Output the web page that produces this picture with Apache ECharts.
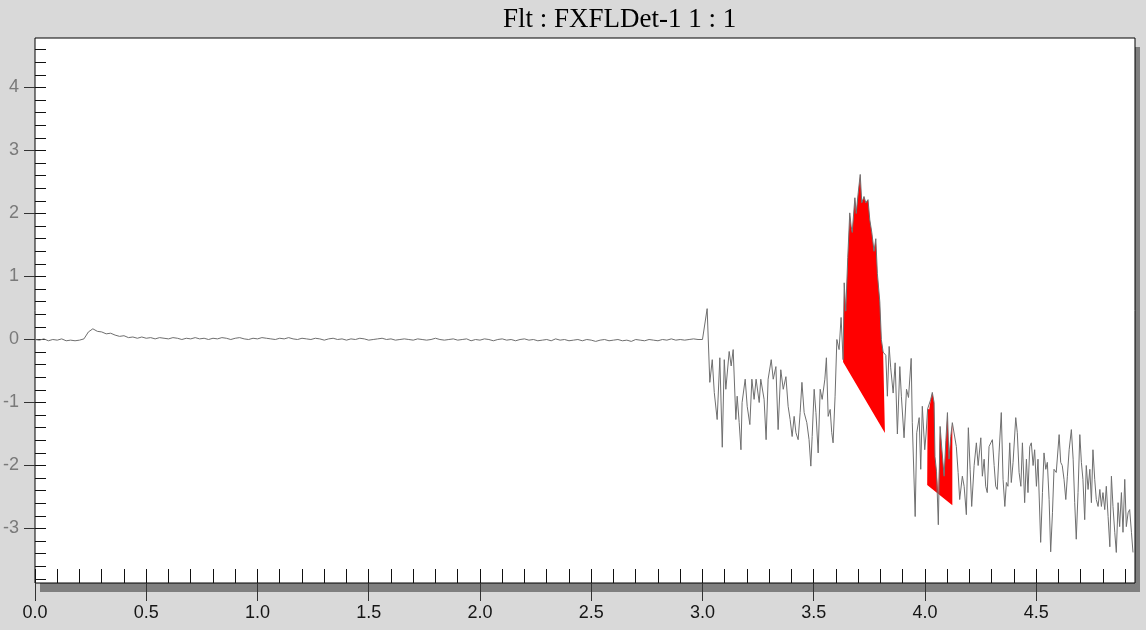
<!DOCTYPE html>
<html>
<head>
<meta charset="utf-8">
<script src="https://cdn.jsdelivr.net/npm/echarts@6/dist/echarts.min.js"></script>
<style>
  html, body { margin: 0; padding: 0; background: #d9d9d9; }
  #c { width: 1146px; height: 630px; }
</style>
</head>
<body>
<div id="c"></div>
<script>
// ---------------- DATA ----------------
const chartTitle = 'Flt : FXFLDet-1 1 : 1';

// Baseline part of the trace: sampled every 0.02 from t = 0.00 to 3.00
const flatStartTime = 0;
const flatStep = 0.02;
const flatValues = [
  0.00, -0.01, 0.01, -0.02, 0.00, -0.01, 0.01, -0.02, -0.01, -0.02,
  -0.01, 0.01, 0.12, 0.17, 0.13, 0.12, 0.09, 0.10, 0.07, 0.05,
  0.06, 0.03, 0.04, 0.02, 0.04, 0.02, 0.03, 0.01, 0.03, 0.02,
  0.01, 0.03, 0.02, 0.00, 0.02, 0.01, 0.03, 0.01, 0.02, 0.00,
  0.02, 0.01, 0.03, 0.02, 0.00, 0.02, 0.03, 0.01, 0.00, 0.02,
  0.01, 0.03, 0.02, 0.01, 0.00, 0.02, 0.01, 0.03, 0.01, 0.00,
  0.02, 0.01, 0.00, 0.02, 0.01, -0.01, 0.01, 0.02, 0.00, 0.01,
  -0.01, 0.01, 0.00, 0.02, 0.01, -0.01, 0.00, 0.01, 0.02, 0.00,
  0.01, -0.01, 0.00, 0.01, 0.00, -0.01, 0.01, 0.00, -0.01, 0.00,
  0.02, 0.00, -0.01, 0.00, 0.01, -0.01, 0.00, 0.01, -0.02, 0.00,
  -0.01, 0.01, 0.00, -0.02, 0.00, 0.01, -0.01, 0.00, -0.02, 0.00,
  0.01, -0.01, 0.00, -0.02, -0.01, 0.00, -0.02, 0.01, -0.01, 0.00,
  -0.02, -0.01, 0.00, -0.02, 0.00, -0.01, -0.03, -0.01, 0.00, -0.02,
  -0.01, 0.00, -0.02, -0.01, -0.03, 0.00, -0.01, -0.02, 0.00, -0.01,
  -0.02, 0.00, -0.01, 0.01, -0.01, 0.00, -0.01, 0.00, 0.01, 0.00,
  0.00
];

// Noisy part of the trace: [time, value]
const noisySamples = [
  [3.021,0.49],[3.033,-0.68],[3.044,-0.32],[3.053,-0.84],[3.066,-1.27],[3.078,-0.29],[3.089,-1.71],[3.098,-0.32],
  [3.105,-0.79],[3.120,-0.19],[3.129,-0.42],[3.138,-0.16],[3.150,-1.27],[3.156,-0.90],[3.165,-1.32],[3.173,-1.75],
  [3.178,-1.00],[3.192,-0.63],[3.201,-1.06],[3.213,-1.35],[3.222,-0.63],[3.232,-0.95],[3.241,-0.63],[3.255,-1.00],
  [3.262,-0.63],[3.277,-0.95],[3.286,-1.59],[3.295,-0.63],[3.309,-0.32],[3.318,-0.63],[3.330,-0.43],[3.340,-1.43],
  [3.352,-0.48],[3.363,-0.79],[3.375,-0.59],[3.385,-1.06],[3.394,-1.27],[3.403,-1.54],[3.412,-1.22],[3.420,-1.48],
  [3.430,-1.59],[3.439,-1.16],[3.447,-0.68],[3.457,-1.16],[3.469,-1.32],[3.479,-1.59],[3.487,-2.01],[3.493,-1.54],
  [3.502,-0.79],[3.510,-1.16],[3.520,-1.80],[3.529,-0.79],[3.538,-0.95],[3.550,-0.63],[3.557,-0.29],[3.565,-1.22],
  [3.574,-1.11],[3.581,-1.48],[3.587,-1.64],[3.596,-0.90],[3.604,0.00],[3.614,-0.16],[3.623,0.35],[3.632,-0.32],
  [3.637,0.90],[3.644,0.45],[3.653,1.30],[3.662,2.01],[3.668,1.80],[3.673,1.70],[3.685,2.25],[3.691,2.00],
  [3.700,2.33],[3.709,2.62],[3.716,2.17],[3.726,2.27],[3.734,2.17],[3.744,2.22],[3.752,1.90],[3.761,1.70],
  [3.771,1.40],[3.779,1.60],[3.786,1.05],[3.797,0.60],[3.804,0.00],[3.812,-0.20],
  [3.824,-0.25],[3.831,-0.90],[3.839,-0.11],[3.846,-0.45],[3.857,-0.85],[3.866,-0.37],[3.876,-1.50],[3.887,-0.43],
  [3.894,-0.90],[3.906,-1.56],[3.917,-0.79],[3.926,-0.92],[3.938,-0.30],[3.943,-1.32],[3.956,-2.81],[3.963,-1.48],
  [3.974,-1.24],[3.981,-2.06],[3.988,-1.06],[3.999,-1.75],[4.005,-1.50],
  [4.012,-1.10],[4.019,-1.11],[4.026,-0.95],[4.033,-0.84],[4.041,-1.00],[4.045,-1.86],[4.052,-2.10],[4.060,-2.94],
  [4.068,-1.38],[4.076,-1.75],[4.086,-2.17],[4.094,-1.60],[4.101,-1.16],[4.108,-1.90],[4.116,-1.54],[4.123,-1.32],
  [4.131,-1.35],[4.141,-1.70],[4.149,-2.11],[4.156,-2.54],[4.168,-2.17],[4.176,-2.33],[4.186,-2.78],[4.195,-1.40],
  [4.203,-2.06],[4.210,-2.65],[4.221,-2.00],[4.231,-1.64],[4.239,-2.00],[4.251,-1.56],[4.258,-2.17],[4.266,-1.90],
  [4.273,-2.33],[4.280,-2.43],[4.288,-1.70],[4.296,-1.64],[4.303,-1.59],[4.311,-2.00],[4.318,-2.33],[4.325,-2.38],
  [4.333,-1.80],[4.343,-1.16],[4.351,-2.22],[4.359,-2.65],[4.366,-2.27],[4.373,-2.33],[4.381,-1.64],[4.388,-2.27],
  [4.396,-1.95],[4.408,-1.24],[4.415,-1.48],[4.423,-2.11],[4.431,-2.33],[4.438,-1.64],[4.448,-2.59],[4.456,-1.90],
  [4.463,-2.43],[4.471,-1.70],[4.478,-1.64],[4.486,-2.00],[4.493,-1.75],[4.501,-2.33],[4.508,-1.90],[4.520,-3.22],
  [4.528,-2.43],[4.535,-1.80],[4.543,-2.06],[4.550,-1.95],[4.558,-2.54],[4.565,-3.37],[4.573,-2.75],[4.580,-2.06],
  [4.590,-2.11],[4.603,-1.51],[4.610,-1.95],[4.617,-2.00],[4.625,-2.22],[4.633,-2.54],[4.640,-2.17],[4.648,-1.75],
  [4.658,-1.43],[4.666,-1.90],[4.673,-2.59],[4.680,-3.17],[4.688,-2.43],[4.696,-1.51],[4.703,-1.95],[4.710,-2.22],
  [4.718,-2.86],[4.725,-2.00],[4.733,-2.38],[4.741,-2.06],[4.748,-2.59],[4.755,-1.75],[4.763,-2.22],[4.770,-2.54],
  [4.778,-2.65],[4.786,-2.38],[4.793,-2.65],[4.800,-2.43],[4.808,-2.70],[4.815,-2.33],[4.823,-2.81],[4.831,-3.29],
  [4.838,-2.17],[4.845,-2.65],[4.853,-3.06],[4.860,-3.38],[4.868,-2.59],[4.875,-2.97],[4.883,-2.43],[4.890,-3.06],
  [4.898,-2.22],[4.905,-2.97],[4.913,-2.75],[4.920,-2.70],[4.928,-3.06],[4.935,-3.38]
];

// Integrated peaks: [startTime, endTime, baselineAtStart, baselineAtEnd]
const peakWindows = [
  [3.632, 3.820, -0.357, -1.484],
  [4.010, 4.123, -2.310, -2.630]
];

// Axes
const xRange = [0, 4.944];
const yRange = [-3.865, 4.786];
const xMajorTicks = [0.0, 0.5, 1.0, 1.5, 2.0, 2.5, 3.0, 3.5, 4.0, 4.5];
const yMajorTicks = [-3, -2, -1, 0, 1, 2, 3, 4];
const xMinorStep = 0.1;
const yMinorStep = 0.2;

// ---------------- BUILD ----------------
const samples = flatValues.map((v, i) => [+(flatStartTime + i * flatStep).toFixed(3), v]).concat(noisySamples);

const xMinorTicks = [];
for (let i = 0; i * xMinorStep <= xRange[1] + 1e-9; i++) xMinorTicks.push(+(i * xMinorStep).toFixed(2));
const yMinorTicks = [];
for (let i = Math.ceil(yRange[0] / yMinorStep); i * yMinorStep <= yRange[1] + 1e-9; i++) yMinorTicks.push(+(i * yMinorStep).toFixed(2));

const FONT = "'Liberation Sans', Arial, sans-serif";
const W = 1146, H = 630;
const gridBox = { left: 35, top: 38, right: 11, bottom: 47 };
const shadowOffset = [5, 9];

const chart = echarts.init(document.getElementById('c'), null, { renderer: 'canvas' });

chart.setOption({
  animation: false,
  backgroundColor: '#d9d9d9',
  title: {
    text: chartTitle,
    left: 498, top: 1,
    textStyle: { fontFamily: "'Liberation Serif', 'Times New Roman', serif", fontSize: 27, fontWeight: 'normal', color: '#000' }
  },
  graphic: [{
    type: 'rect', z: -10, silent: true,
    shape: {
      x: gridBox.left + shadowOffset[0], y: gridBox.top + shadowOffset[1],
      width: W - gridBox.left - gridBox.right, height: H - gridBox.top - gridBox.bottom
    },
    style: { fill: '#7f7f7f' }
  }],
  grid: [
    Object.assign({ show: true, backgroundColor: '#ffffff', borderColor: '#000', borderWidth: 1 }, gridBox),
    Object.assign({ show: false }, gridBox)
  ],
  xAxis: [
    { type: 'value', gridIndex: 0, min: xRange[0], max: xRange[1], position: 'bottom',
      axisLine: { show: false, onZero: false }, splitLine: { show: false },
      axisTick: { show: true, inside: true, length: 14, customValues: xMinorTicks, lineStyle: { color: '#111', width: 1 } },
      axisLabel: { show: false } },
    { type: 'value', gridIndex: 1, min: xRange[0], max: xRange[1], position: 'bottom',
      axisLine: { show: false, onZero: false }, splitLine: { show: false },
      axisTick: { show: true, inside: false, length: 18, customValues: xMajorTicks, lineStyle: { color: '#333', width: 1 } },
      axisLabel: { show: true, customValues: xMajorTicks, formatter: v => v.toFixed(1), margin: 21,
        fontSize: 18, fontFamily: FONT, color: '#151515' } }
  ],
  yAxis: [
    { type: 'value', gridIndex: 0, min: yRange[0], max: yRange[1], position: 'left',
      axisLine: { show: false, onZero: false }, splitLine: { show: false },
      axisTick: { show: true, inside: true, length: 11, customValues: yMinorTicks, lineStyle: { color: '#111', width: 1 } },
      axisLabel: { show: false } },
    { type: 'value', gridIndex: 1, min: yRange[0], max: yRange[1], position: 'left',
      axisLine: { show: false, onZero: false }, splitLine: { show: false },
      axisTick: { show: true, inside: false, length: 11, customValues: yMajorTicks, lineStyle: { color: '#333', width: 1 } },
      axisLabel: { show: true, customValues: yMajorTicks, margin: 16,
        fontSize: 18, fontFamily: FONT, color: '#7a7a7a' } }
  ],
  series: [
    {
      type: 'custom', xAxisIndex: 0, yAxisIndex: 0, z: 2, silent: true,
      data: peakWindows.map(w => [w[0], w[2]]),
      encode: { x: 0, y: 1 },
      renderItem: function (params, api) {
        const w = peakWindows[params.dataIndex];
        const t0 = w[0], t1 = w[1], b0 = w[2], b1 = w[3];
        const pts = [api.coord([t0, b0])];
        samples.forEach(s => {
          if (s[0] >= t0 && s[0] <= t1) {
            const base = b0 + (b1 - b0) * (s[0] - t0) / (t1 - t0);
            pts.push(api.coord([s[0], Math.max(s[1], base)]));
          }
        });
        pts.push(api.coord([t1, b1]));
        return { type: 'polygon', shape: { points: pts }, style: { fill: '#ff0000', stroke: null } };
      }
    },
    {
      type: 'line', xAxisIndex: 0, yAxisIndex: 0, z: 3,
      data: samples, showSymbol: false, symbol: 'none', sampling: null,
      lineStyle: { color: '#6f6f6f', width: 1 },
      silent: true
    }
  ]
});
</script>
</body>
</html>
